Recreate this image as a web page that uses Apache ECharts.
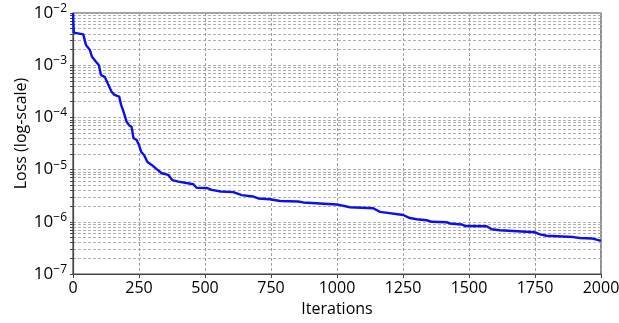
<!DOCTYPE html>
<html>
<head>
<meta charset="utf-8">
<script src="https://cdn.jsdelivr.net/npm/echarts@6/dist/echarts.min.js"></script>
<style>
html,body{margin:0;padding:0;background:#fff;}
#chart{width:619px;height:323px;}
</style>
</head>
<body>
<div id="chart"></div>
<script>
// Iteration index of each read point
const iterations = [0, 3, 39, 49, 64, 72, 87, 98, 106, 121, 134, 146, 157, 175, 182, 191, 203, 212, 222, 229, 241, 250, 258, 269, 282, 298, 317, 336, 361, 376, 399, 405, 456, 468, 506, 525, 560, 607, 639, 683, 702, 746, 784, 853, 872, 999, 1049, 1137, 1163, 1251, 1276, 1302, 1340, 1359, 1415, 1428, 1472, 1485, 1567, 1586, 1617, 1750, 1769, 1794, 1895, 1920, 1965, 2000];
// Loss values (log-scale axis)
const losses = [1.0e-2, 4.2e-3, 3.9e-3, 2.45e-3, 1.95e-3, 1.45e-3, 1.17e-3, 1.0e-3, 6.5e-4, 5.9e-4, 4.2e-4, 3.1e-4, 2.7e-4, 2.5e-4, 1.75e-4, 1.3e-4, 8.3e-5, 7.1e-5, 6.6e-5, 4.0e-5, 3.7e-5, 2.95e-5, 2.2e-5, 1.9e-5, 1.4e-5, 1.23e-5, 1.02e-5, 8.5e-6, 7.9e-6, 6.3e-6, 5.9e-6, 5.5e-6, 5.25e-6, 4.5e-6, 4.45e-6, 4.1e-6, 3.8e-6, 3.7e-6, 3.25e-6, 3.05e-6, 2.8e-6, 2.7e-6, 2.5e-6, 2.45e-6, 2.35e-6, 2.15e-6, 1.9e-6, 1.82e-6, 1.55e-6, 1.35e-6, 1.18e-6, 1.12e-6, 1.07e-6, 1.0e-6, 9.8e-7, 9.3e-7, 8.9e-7, 8.3e-7, 8.2e-7, 7.2e-7, 6.9e-7, 6.3e-7, 5.75e-7, 5.4e-7, 5.1e-7, 4.9e-7, 4.8e-7, 4.3e-7];
// Axis ticks
const xTicks = [0, 250, 500, 750, 1000, 1250, 1500, 1750, 2000];
const yMajorTicks = [1e-7, 1e-6, 1e-5, 1e-4, 1e-3, 1e-2];
const yMinorMultipliers = [2, 3, 4, 5, 6, 7, 8, 9];

const yAllTicks = [];
yMajorTicks.forEach(function (d, i) {
  yAllTicks.push(d);
  if (i < yMajorTicks.length - 1) {
    yMinorMultipliers.forEach(function (m) { yAllTicks.push(+(m * d).toPrecision(3)); });
  }
});

const seriesData = iterations.map(function (it, i) { return [it, losses[i]]; });

const FONT = 'Open Sans';
const chart = echarts.init(document.getElementById('chart'), null, {renderer: 'canvas'});
chart.setOption({
  animation: false,
  backgroundColor: '#ffffff',
  grid: {left: 73, right: 18, top: 13, bottom: 49, show: true, borderColor: '#444', borderWidth: 1.2, containLabel: false, outerBoundsMode: 'none'},
  xAxis: {
    type: 'value', min: 0, max: 2000, interval: 250,
    name: 'Iterations', nameLocation: 'middle', nameGap: 27,
    nameTextStyle: {fontFamily: FONT, fontSize: 16, color: '#000'},
    axisLine: {show: true, lineStyle: {color: '#444', width: 1.2}},
    axisTick: {show: true, length: 4, lineStyle: {color: '#444'}},
    axisLabel: {
      customValues: xTicks,
      fontFamily: FONT, fontSize: 16, color: '#000', margin: 6,
      formatter: function (v) { return String(v); }
    },
    splitLine: {show: true, lineStyle: {color: '#a0a0a0', type: [3, 2], width: 1}}
  },
  yAxis: {
    type: 'log', logBase: 10, min: 1e-7, max: 1e-2,
    name: 'Loss (log-scale)', nameLocation: 'middle', nameGap: 44, nameMoveOverlap: false,
    nameTextStyle: {fontFamily: FONT, fontSize: 16, color: '#000', padding: [0, 0, 0, 20]},
    axisLine: {show: true, lineStyle: {color: '#444', width: 1.2}},
    axisTick: {show: true, length: 3, customValues: yAllTicks, lineStyle: {color: '#444'}},
    axisLabel: {
      customValues: yMajorTicks,
      margin: 6,
      formatter: function (v) {
        const e = Math.round(Math.log10(v));
        return '{a|10}{b|' + (e < 0 ? '\u2212' : '') + Math.abs(e) + '}';
      },
      rich: {
        a: {fontFamily: FONT, fontSize: 17, color: '#000'},
        b: {fontFamily: FONT, fontSize: 12, color: '#000', padding: [0, 0, 9, 0]}
      }
    },
    splitLine: {show: true, lineStyle: {color: '#b0b0b0', type: [3, 2], width: 1}}
  },
  series: [{
    type: 'line',
    data: seriesData,
    showSymbol: false,
    symbol: 'none',
    lineStyle: {color: '#0a10f0', width: 2.4},
    clip: true
  }]
});
</script>
</body>
</html>
